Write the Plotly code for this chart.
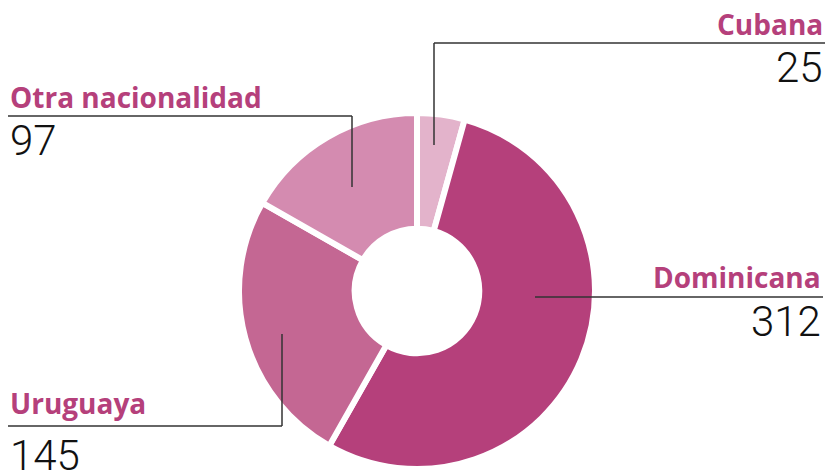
import plotly.graph_objects as go

labels = ["Cubana", "Dominicana", "Uruguaya", "Otra nacionalidad"]
values = [25, 312, 145, 97]
colors = ["#e3b3cb", "#b5407b", "#c46793", "#d48bb0"]

W, H = 829, 471
def px(x): return x / W
def py(y): return 1 - y / H

cx, cy, R = 417, 291, 178
fig = go.Figure(go.Pie(
    labels=labels, values=values, sort=False, direction="clockwise", rotation=0,
    hole=0.35, textinfo="none", hoverinfo="label+value",
    marker=dict(colors=colors, line=dict(color="white", width=6)),
    domain=dict(x=[px(cx - R), px(cx + R)], y=[py(cy + R), py(cy - R)]),
))

title_font = dict(family="Open Sans", size=28, color="#b5407b", weight=700)
num_font = dict(family="Roboto", size=42, color="#111111", weight=300)

label_pos = {
    "Cubana": dict(x=825, anchor="right", ty=24, ny=68,
                   line=[(434, 145), (434, 43), (825, 43)]),
    "Dominicana": dict(x=823, anchor="right", ty=277, ny=321,
                       line=[(535, 297), (823, 297)]),
    "Uruguaya": dict(x=8, anchor="left", ty=403, ny=455,
                     line=[(282, 334), (282, 426), (8, 426)]),
    "Otra nacionalidad": dict(x=8, anchor="left", ty=97, ny=141,
                              line=[(352, 187), (352, 116), (8, 116)]),
}

shapes = []
annotations = []
for lab, val in zip(labels, values):
    p = label_pos[lab]
    annotations.append(dict(text=f"<b>{lab}</b>", x=px(p["x"]), y=py(p["ty"]), xref="paper", yref="paper",
                            xanchor=p["anchor"], yanchor="middle", showarrow=False, font=title_font))
    annotations.append(dict(text=str(val), x=px(p["x"]), y=py(p["ny"]), xref="paper", yref="paper",
                            xanchor=p["anchor"], yanchor="middle", showarrow=False, font=num_font))
    pts = p["line"]
    for (x0, y0), (x1, y1) in zip(pts[:-1], pts[1:]):
        shapes.append(dict(type="line", xref="paper", yref="paper", x0=px(x0), y0=py(y0), x1=px(x1), y1=py(y1),
                           line=dict(color="#333333", width=1.5)))

fig.update_layout(width=W, height=H, margin=dict(l=0, r=0, t=0, b=0), showlegend=False,
                  paper_bgcolor="white", plot_bgcolor="white", shapes=shapes, annotations=annotations)
fig.write_html("out.html", config={"displayModeBar": False},
               post_script="document.body.style.margin='0';document.body.style.overflow='hidden';")
